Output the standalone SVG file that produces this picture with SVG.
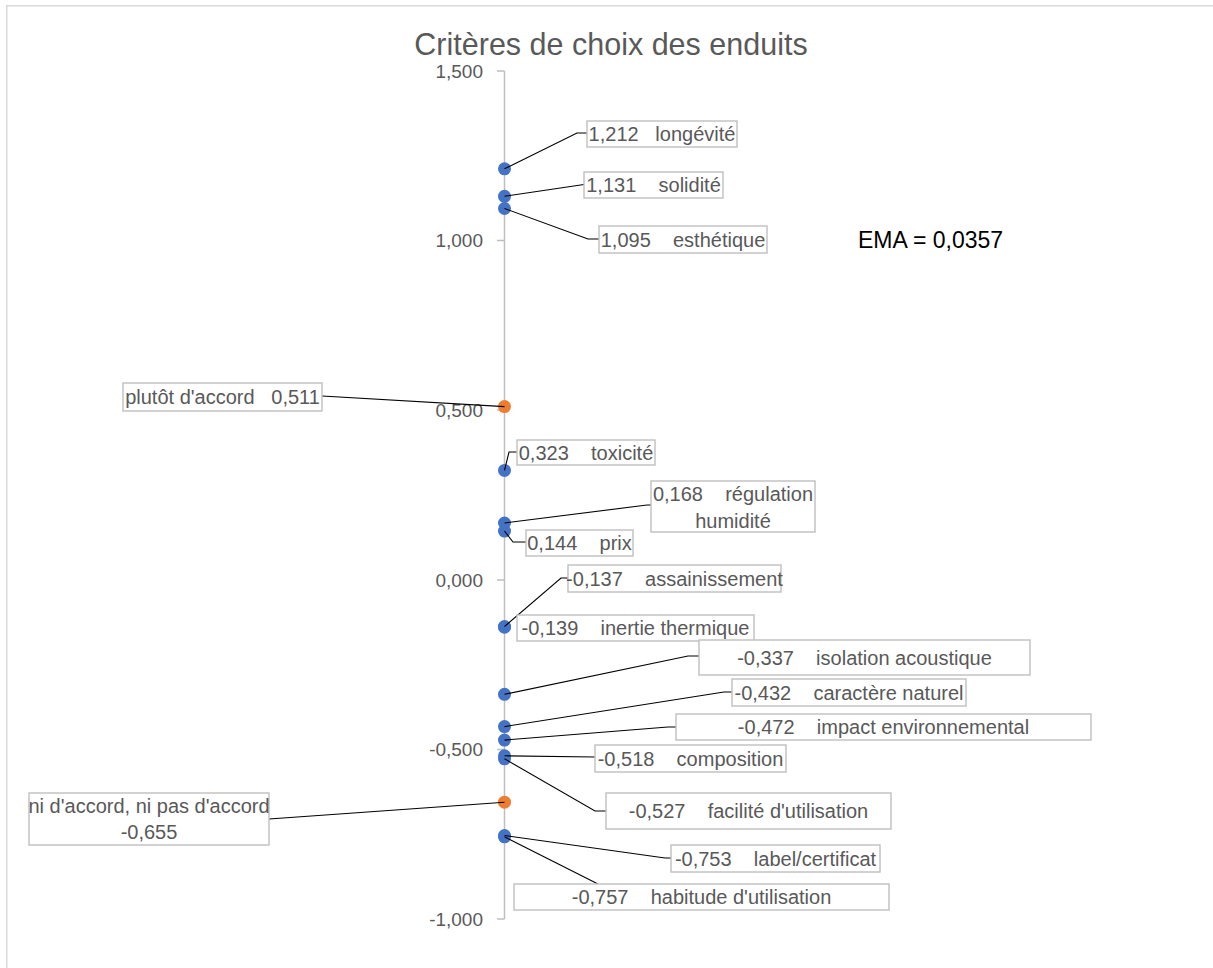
<svg xmlns="http://www.w3.org/2000/svg" width="1213" height="968" viewBox="0 0 1213 968">
  <style>
    text { font-family: "Liberation Sans", Arial, sans-serif; fill: #595959; white-space: pre; }
    .title { font-size: 30.5px; text-anchor: middle; }
    .tick-label { font-size: 19px; text-anchor: end; }
    .lbl { font-size: 20px; text-anchor: middle; }
    .note { font-size: 23px; fill: #000000; }
    .box { fill: #ffffff; stroke: #bfbfbf; stroke-width: 1.4; }
    .axis { stroke: #bfbfbf; stroke-width: 1.5; fill: none; }
    .leader { stroke: #000000; stroke-width: 1.1; fill: none; }
    .pt-blue { fill: #4472c4; }
    .pt-orange { fill: #ed7d31; }
  </style>

  <!-- chart area -->
  <rect x="0" y="0" width="1213" height="968" fill="#ffffff"/>
  <rect x="6.75" y="5.75" width="1230" height="1000" fill="none" stroke="#d9d9d9" stroke-width="1.5"/>

  <text class="title" x="611" y="55">Critères de choix des enduits</text>

  <!-- vertical value axis -->
  <g id="axis">
    <line class="axis" x1="504.5" y1="71" x2="504.5" y2="919"/>
    <path class="axis" d="M497 71H504.5M497 240.5H504.5M497 410H504.5M497 580H504.5M497 749.5H504.5M497 919H504.5"/>
    <text class="tick-label" x="483" y="77.5">1,500</text>
    <text class="tick-label" x="483" y="247">1,000</text>
    <text class="tick-label" x="483" y="416.5">0,500</text>
    <text class="tick-label" x="483" y="586.5">0,000</text>
    <text class="tick-label" x="483" y="756">-0,500</text>
    <text class="tick-label" x="483" y="925.5">-1,000</text>
  </g>

  <!-- data points -->
  <g id="points">
    <circle class="pt-blue" cx="504.5" cy="168.8" r="6.5"/>
    <circle class="pt-blue" cx="504.5" cy="196.3" r="6.5"/>
    <circle class="pt-blue" cx="504.5" cy="208.5" r="6.5"/>
    <circle class="pt-orange" cx="504.5" cy="406.6" r="6.5"/>
    <circle class="pt-blue" cx="504.5" cy="470.4" r="6.5"/>
    <circle class="pt-blue" cx="504.5" cy="523" r="6.5"/>
    <circle class="pt-blue" cx="504.5" cy="531.1" r="6.5"/>
    <circle class="pt-blue" cx="504.5" cy="626.5" r="6.5"/>
    <circle class="pt-blue" cx="504.5" cy="627.2" r="6.5"/>
    <circle class="pt-blue" cx="504.5" cy="694.3" r="6.5"/>
    <circle class="pt-blue" cx="504.5" cy="726.6" r="6.5"/>
    <circle class="pt-blue" cx="504.5" cy="740.1" r="6.5"/>
    <circle class="pt-blue" cx="504.5" cy="755.8" r="6.5"/>
    <circle class="pt-blue" cx="504.5" cy="758.8" r="6.5"/>
    <circle class="pt-orange" cx="504.5" cy="802.2" r="6.5"/>
    <circle class="pt-blue" cx="504.5" cy="835.5" r="6.5"/>
    <circle class="pt-blue" cx="504.5" cy="836.8" r="6.5"/>
  </g>

  <!-- leader lines from points to labels -->
  <g id="connectors">
    <polyline class="leader" points="504.5,168.8 577,133 587,133"/>
    <polyline class="leader" points="504.5,196.3 584,184.5"/>
    <polyline class="leader" points="504.5,208.5 588,239 599,239"/>
    <polyline class="leader" points="504.5,406.6 322,396"/>
    <polyline class="leader" points="504.5,470.4 509,452 517,452"/>
    <polyline class="leader" points="504.5,523 647,505 651,505"/>
    <polyline class="leader" points="504.5,531.1 513,542 526,542"/>
    <polyline class="leader" points="504.5,626.5 561,578 568,578"/>
    <polyline class="leader" points="504.5,694.3 688,656 699,656"/>
    <polyline class="leader" points="504.5,726.6 724,692 732,692"/>
    <polyline class="leader" points="504.5,740.1 668,727 676,727"/>
    <polyline class="leader" points="504.5,755.8 595,757"/>
    <polyline class="leader" points="504.5,758.8 595,811 606,811"/>
    <polyline class="leader" points="504.5,835.5 665,858 671,858"/>
    <polyline class="leader" points="504.5,836.8 598,884"/>
    <polyline class="leader" points="504.5,802.2 269,819"/>
  </g>

  <!-- data labels -->
  <g id="lbl-longevite">
    <rect class="box" x="587" y="121" width="150" height="26"/>
    <text class="lbl" x="662" y="141">1,212   longévité</text>
  </g>
  <g id="lbl-solidite">
    <rect class="box" x="584" y="172" width="139" height="26"/>
    <text class="lbl" x="653.5" y="192">1,131    solidité</text>
  </g>
  <g id="lbl-esthetique">
    <rect class="box" x="599" y="226" width="168" height="27"/>
    <text class="lbl" x="683" y="246.5">1,095    esthétique</text>
  </g>
  <g id="lbl-plutot">
    <rect class="box" x="123" y="383" width="199" height="28"/>
    <text class="lbl" x="222.5" y="404">plutôt d'accord   0,511</text>
  </g>
  <g id="lbl-toxicite">
    <rect class="box" x="517" y="440" width="138" height="25"/>
    <text class="lbl" x="586" y="459.5">0,323    toxicité</text>
  </g>
  <g id="lbl-regulation">
    <rect class="box" x="651" y="481" width="164" height="51"/>
    <text class="lbl" x="733" y="500.5">0,168    régulation</text>
    <text class="lbl" x="733" y="527.5">humidité</text>
  </g>
  <g id="lbl-prix">
    <rect class="box" x="526" y="530" width="107" height="26"/>
    <text class="lbl" x="579.5" y="550">0,144    prix</text>
  </g>
  <g id="lbl-assainissement">
    <rect class="box" x="568" y="565" width="213" height="27"/>
    <text class="lbl" x="674.5" y="585.5">-0,137    assainissement</text>
  </g>
  <g id="lbl-inertie">
    <rect class="box" x="517" y="615" width="237" height="26"/>
    <text class="lbl" x="635.5" y="635">-0,139    inertie thermique</text>
  </g>
  <g id="lbl-isolation">
    <rect class="box" x="699" y="640" width="331" height="35"/>
    <text class="lbl" x="864.5" y="664.5">-0,337    isolation acoustique</text>
  </g>
  <g id="lbl-caractere">
    <rect class="box" x="732" y="679" width="234" height="27"/>
    <text class="lbl" x="849" y="699.5">-0,432    caractère naturel</text>
  </g>
  <g id="lbl-impact">
    <rect class="box" x="676" y="714" width="415" height="26"/>
    <text class="lbl" x="883.5" y="734">-0,472    impact environnemental</text>
  </g>
  <g id="lbl-composition">
    <rect class="box" x="595" y="745" width="191" height="27"/>
    <text class="lbl" x="690.5" y="765.5">-0,518    composition</text>
  </g>
  <g id="lbl-facilite">
    <rect class="box" x="606" y="793" width="285" height="36"/>
    <text class="lbl" x="748.5" y="818">-0,527    facilité d'utilisation</text>
  </g>
  <g id="lbl-label">
    <rect class="box" x="671" y="845" width="209" height="27"/>
    <text class="lbl" x="775.5" y="865.5">-0,753    label/certificat</text>
  </g>
  <g id="lbl-habitude">
    <rect class="box" x="514" y="884" width="375" height="26"/>
    <text class="lbl" x="701.5" y="904">-0,757    habitude d'utilisation</text>
  </g>
  <g id="lbl-neutre">
    <rect class="box" x="29" y="793" width="240" height="52"/>
    <text class="lbl" x="149" y="813">ni d'accord, ni pas d'accord</text>
    <text class="lbl" x="149" y="839">-0,655</text>
  </g>

  <text class="note" x="858" y="248">EMA = 0,0357</text>
</svg>
